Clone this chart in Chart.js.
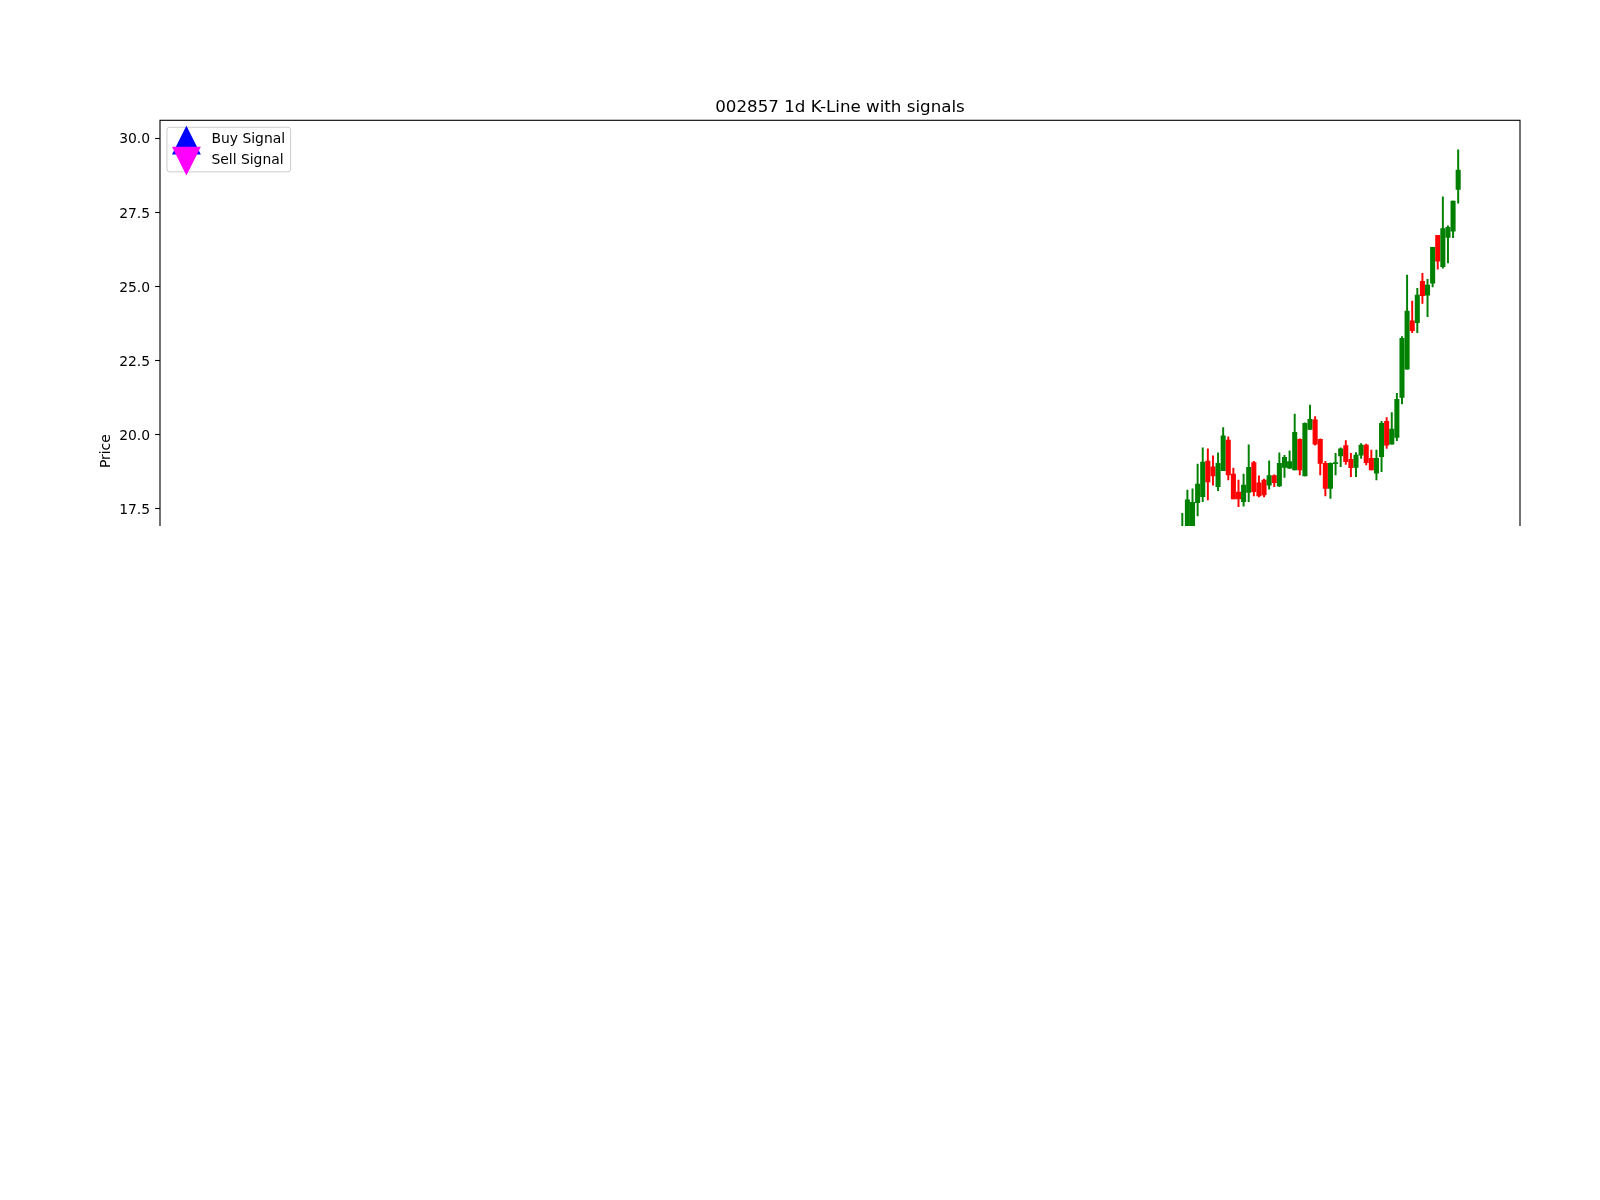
<!DOCTYPE html>
<html>
<head>
<meta charset="utf-8">
<script src="https://cdn.jsdelivr.net/npm/chart.js"></script>
<style>
  html, body { margin: 0; padding: 0; background: #ffffff; }
  #clip { position: absolute; left: 0; top: 0; width: 1600px; height: 526px; overflow: hidden; }
  #kline { display: block; width: 1600px; height: 1200px; }
</style>
</head>
<body>
<div id="clip"><canvas id="kline" width="1600" height="1200"></canvas></div>
<script>
// daily candles that are visible in the picture (index = trading day number)
const firstDay = 188;
const opens  = [16.50, 16.60, 16.80, 17.71, 17.91, 19.11, 18.92, 18.25, 18.79, 19.82,
                18.67, 18.06, 17.74, 18.05, 19.06, 18.38, 18.47, 18.30, 18.62, 18.27,
                18.90, 18.87, 18.81, 19.84, 18.61, 20.18, 20.50, 19.84, 19.03, 18.19,
                19.02, 19.28, 19.63, 19.17, 18.90, 19.31, 19.65, 19.20, 18.70, 19.26,
                20.45, 19.68, 19.91, 21.26, 22.21, 23.84, 23.78, 25.18, 24.71, 25.11,
                26.73, 25.67, 26.66, 26.87, 28.28];
const highs  = [17.35, 18.13, 18.17, 19.01, 19.56, 19.52, 19.29, 19.39, 20.24, 19.93,
                18.87, 18.47, 18.67, 19.66, 19.10, 18.61, 18.50, 19.12, 18.65, 19.39,
                19.30, 19.46, 20.70, 19.86, 20.40, 21.00, 20.61, 19.86, 19.10, 19.05,
                19.37, 19.56, 19.80, 19.37, 19.40, 19.70, 19.68, 19.48, 19.48, 20.45,
                20.58, 20.75, 21.40, 23.31, 25.39, 24.51, 24.94, 25.45, 25.24, 26.32,
                26.73, 28.03, 27.05, 27.88, 29.61];
const lows   = [16.30, 16.40, 16.60, 17.26, 17.74, 17.80, 18.30, 18.11, 18.79, 18.47,
                17.83, 17.57, 17.59, 17.74, 17.93, 17.90, 17.90, 18.16, 18.25, 18.25,
                18.56, 18.85, 18.81, 18.64, 18.61, 20.18, 19.65, 18.64, 17.93, 17.85,
                18.64, 18.92, 19.00, 18.58, 18.58, 19.20, 18.98, 18.81, 18.47, 18.75,
                19.54, 19.68, 19.80, 21.04, 22.21, 23.44, 23.44, 24.43, 23.98, 24.99,
                25.59, 25.62, 25.80, 26.65, 27.81];
const closes = [16.70, 17.80, 17.72, 18.33, 19.08, 18.41, 18.61, 19.03, 19.96, 18.64,
                17.83, 17.83, 18.30, 18.90, 18.08, 17.93, 17.97, 18.62, 18.38, 19.03,
                19.24, 19.09, 20.08, 18.81, 20.38, 20.52, 19.68, 19.03, 18.19, 19.03,
                19.06, 19.52, 19.09, 18.89, 19.31, 19.65, 19.06, 18.81, 19.20, 20.38,
                19.65, 20.19, 21.19, 23.25, 24.17, 23.51, 24.71, 24.69, 25.05, 26.32,
                25.86, 26.96, 27.00, 27.88, 28.93];
const buySignals = [];
const sellSignals = [];
const priceTicks = [10.0, 12.5, 15.0, 17.5, 20.0, 22.5, 25.0, 27.5, 30.0];

const days = opens.map((_, i) => firstDay + i);
const upColor = '#008000';
const downColor = '#ff0000';
const candleColor = ctx => closes[ctx.dataIndex] >= opens[ctx.dataIndex] ? upColor : downColor;

// frame around the plot area (matplotlib spines)
const frame = {
  id: 'frame',
  afterDatasetsDraw(chart) {
    const {ctx, chartArea: a} = chart;
    ctx.save();
    ctx.strokeStyle = '#000000';
    ctx.lineWidth = 1.1;
    ctx.strokeRect(a.left, a.top, a.right - a.left, a.bottom - a.top);
    ctx.restore();
  }
};

// legend box in the upper left corner of the axes
const signalLegend = {
  id: 'signalLegend',
  afterDraw(chart) {
    const {ctx, chartArea} = chart;
    const fs = 13.9;
    const items = chart.data.datasets.filter(d => d.signal);
    ctx.save();
    ctx.font = fs + 'px "DejaVu Sans"';
    const textW = Math.max(...items.map(d => ctx.measureText(d.label).width));
    const x0 = chartArea.left + 0.5 * fs;
    const y0 = chartArea.top + 0.5 * fs;
    const w = 0.4 * fs + 2 * fs + 0.8 * fs + textW + 0.4 * fs;
    const h = 44.6;
    const r = 2.8;
    ctx.beginPath();
    ctx.moveTo(x0 + r, y0);
    ctx.arcTo(x0 + w, y0, x0 + w, y0 + h, r);
    ctx.arcTo(x0 + w, y0 + h, x0, y0 + h, r);
    ctx.arcTo(x0, y0 + h, x0, y0, r);
    ctx.arcTo(x0, y0, x0 + w, y0, r);
    ctx.closePath();
    ctx.fillStyle = 'rgba(255,255,255,0.8)';
    ctx.fill();
    ctx.strokeStyle = '#cccccc';
    ctx.lineWidth = 1;
    ctx.stroke();

    items.forEach((d, i) => {
      const cy = y0 + 12.2 + i * 21;
      const mx = x0 + 0.4 * fs + fs;
      const my = y0 + 12.8 + i * 21;
      const s = 14.4;
      ctx.beginPath();
      if (d.signal === 'buy') {
        ctx.moveTo(mx, my - s);
        ctx.lineTo(mx + s, my + s);
        ctx.lineTo(mx - s, my + s);
      } else {
        ctx.moveTo(mx, my + s);
        ctx.lineTo(mx + s, my - s);
        ctx.lineTo(mx - s, my - s);
      }
      ctx.closePath();
      ctx.fillStyle = d.backgroundColor;
      ctx.fill();
      ctx.fillStyle = '#000000';
      ctx.textBaseline = 'middle';
      ctx.textAlign = 'left';
      ctx.fillText(d.label, x0 + 3.2 * fs, cy);
    });
    ctx.restore();
  }
};

Chart.defaults.font.family = '"DejaVu Sans", sans-serif';
Chart.defaults.color = '#000000';

new Chart(document.getElementById('kline'), {
  type: 'bar',
  data: {
    datasets: [
      {
        label: 'body',
        data: days.map((x, i) => ({x: x, y: [opens[i], closes[i]]})),
        backgroundColor: candleColor,
        barThickness: 4.4,
        grouped: false,
        order: 0
      },
      {
        label: 'wick',
        data: days.map((x, i) => ({x: x, y: [lows[i], highs[i]]})),
        backgroundColor: candleColor,
        barThickness: 1.3,
        grouped: false,
        order: 1
      },
      {
        type: 'scatter',
        label: 'Buy Signal',
        signal: 'buy',
        data: buySignals,
        backgroundColor: '#0000ff',
        pointStyle: 'triangle',
        pointRadius: 10
      },
      {
        type: 'scatter',
        label: 'Sell Signal',
        signal: 'sell',
        data: sellSignals,
        backgroundColor: '#ff00ff',
        pointStyle: 'triangle',
        pointRotation: 180,
        pointRadius: 10
      }
    ]
  },
  options: {
    responsive: false,
    animation: false,
    devicePixelRatio: 1,
    layout: { padding: { left: 97.7, right: 80, top: 96, bottom: 418 } },
    plugins: {
      legend: { display: false },
      tooltip: { enabled: false },
      title: {
        display: true,
        fullSize: false,
        text: '002857 1d K-Line with signals',
        color: '#000000',
        font: { size: 16.7, weight: 'normal' },
        padding: { top: 2, bottom: 2.26 }
      }
    },
    scales: {
      x: {
        type: 'linear',
        display: false,
        offset: false,
        min: -12.1,
        max: 254.1
      },
      y: {
        type: 'linear',
        min: 8.28,
        max: 30.61,
        afterBuildTicks: scale => { scale.ticks = priceTicks.map(v => ({value: v})); },
        afterFit: scale => { scale.width = 62.3; },
        ticks: {
          color: '#000000',
          font: { size: 13.9 },
          padding: 5,
          labelOffset: 1.5,
          callback: v => Number(v).toFixed(1)
        },
        grid: {
          display: true,
          drawOnChartArea: false,
          drawTicks: true,
          tickLength: 4.9,
          tickWidth: 1.1,
          tickColor: '#000000'
        },
        border: { display: false },
        title: {
          display: true,
          text: 'Price',
          color: '#000000',
          font: { size: 13.9 },
          padding: { top: 0, bottom: 0 }
        }
      }
    }
  },
  plugins: [frame, signalLegend]
});
</script>
</body>
</html>
